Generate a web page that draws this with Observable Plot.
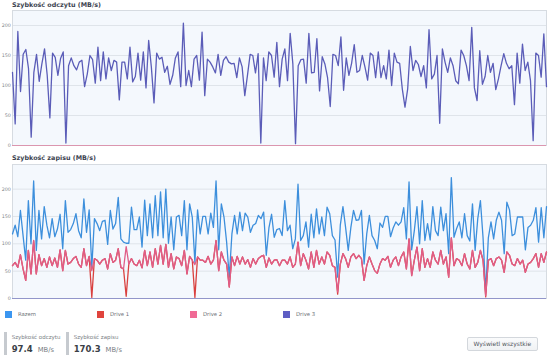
<!DOCTYPE html>
<html>
<head>
<meta charset="utf-8">
<script src="https://cdn.jsdelivr.net/npm/d3@7"></script>
<script src="https://cdn.jsdelivr.net/npm/@observablehq/plot@0.6"></script>
<style>
  html, body { margin: 0; padding: 0; background: #ffffff; }
  body { font-family: "DejaVu Sans", Verdana, sans-serif; }
  #root { position: relative; width: 550px; height: 360px; overflow: hidden; background: #fff; }
  #root svg { position: absolute; left: 0; background: transparent !important; }
  .abs { position: absolute; white-space: nowrap; line-height: 1; }
  .title { font-weight: bold; font-size: 6.4px; color: #3c4350; }
  .legtxt { font-size: 5.3px; color: #6b6f75; }
  .sq { position: absolute; width: 7px; height: 7px; }
  .bar { position: absolute; width: 3px; background: #c6cacf; }
  .slab { font-size: 5.5px; color: #7b7f86; }
  .sval { font-size: 8.5px; font-weight: bold; color: #3a3f47; }
  .sunit { font-size: 6.8px; color: #7b7f86; }
  .btn { position: absolute; box-sizing: border-box; border: 1px solid #d3d7dc; border-radius: 2px;
         background: linear-gradient(#fafbfc, #f0f2f4); font-size: 6px; color: #50555c;
         display: flex; align-items: center; justify-content: center; }
</style>
</head>
<body>
<div id="root"></div>
<script>
// ---------- data ----------
const chartTitles = ["Szybkość odczytu (MB/s)", "Szybkość zapisu (MB/s)"];
const seriesNames = ["Razem", "Drive 1", "Drive 2", "Drive 3"];
const seriesColors = ["#3d8fdc", "#d9413f", "#e05d87", "#5b5db8"];
const legendColors = ["#3b96f0", "#e0443d", "#f06a95", "#5e5ec4"];
const yTicks = [0, 50, 100, 150, 200];
const statLabels = ["Szybkość odczytu", "Szybkość zapisu"];
const statValues = ["97.4", "170.3"];
const statUnit = "MB/s";
const buttonLabel = "Wyświetl wszystkie";

// read speed of Drive 3 (Razem equals it), Drive 1 and Drive 2 read 0
const readDrive3 = [
  122,36,190,90,152,160,128,14,122,152,107,136,161,117,46,154,147,117,145,156,4,133,146,133,126,139,142,98,119,150,143,104,164,108,156,111,146,125,142,139,76,139,139,111,164,106,115,154,109,156,96,175,131,71,154,144,147,122,132,102,117,146,156,98,204,100,125,98,144,
  150,109,189,83,144,139,131,121,152,117,142,148,139,136,137,113,146,131,83,117,152,150,121,153,4,146,108,156,150,114,172,98,144,161,108,187,136,3,133,143,144,104,187,121,122,178,91,148,136,113,65,152,150,133,181,92,146,117,137,168,122,125,150,131,109,
  154,150,113,156,113,133,111,159,100,154,139,137,94,64,94,165,125,142,135,115,133,96,193,111,119,150,37,161,139,122,146,133,108,103,159,150,133,108,197,96,75,158,102,115,150,122,137,93,111,133,153,137,128,133,68,154,104,169,125,139,108,8,154,150,114,186,98
];
const readIdleDrives = [0];   // Drive 1, Drive 2 read speed

// write speed
const writeTotal = [
  118,134,113,161,115,70,179,100,215,88,161,109,168,134,111,146,113,127,154,91,179,121,126,137,155,124,111,182,121,162,57,146,137,124,141,143,99,161,127,137,185,109,103,101,101,167,126,126,149,94,180,115,173,111,188,115,195,111,200,101,149,89,149,152,115,179,89,173,149,
  66,162,118,150,150,118,156,130,215,89,173,149,103,39,118,152,118,158,124,156,149,121,134,137,152,146,158,79,129,154,112,126,128,115,179,124,134,91,109,209,106,115,140,94,154,111,164,118,149,115,167,155,115,107,39,134,168,130,88,130,161,143,144,161,63,118,152,115,106,
  91,138,130,150,150,113,129,140,134,140,166,109,213,89,124,168,100,179,106,137,107,168,124,115,167,124,155,82,221,112,128,140,111,155,115,105,173,88,146,179,111,12,111,140,109,143,158,143,82,176,162,115,118,149,149,149,89,130,134,143,166,103,166,111,168
];
const writeDrive1 = [
  60,66,57,80,54,33,88,45,106,45,80,60,73,57,76,60,74,57,89,51,88,63,66,73,77,63,57,91,60,77,2,73,70,63,70,73,54,82,66,70,91,57,54,4,63,73,63,60,70,56,88,60,85,57,91,63,97,63,99,57,82,54,76,73,60,88,45,77,70,
  2,76,70,70,66,77,63,70,106,51,85,70,63,21,76,60,77,63,76,63,71,57,73,63,73,77,79,57,74,63,70,71,60,70,70,63,76,57,63,103,60,82,70,54,85,57,88,63,76,63,85,79,60,57,8,63,82,73,57,76,82,73,79,73,33,60,76,63,51,
  46,63,73,70,77,57,70,76,60,76,85,54,109,42,70,94,51,91,57,73,57,85,70,63,88,63,76,39,111,60,73,70,60,82,63,54,88,57,66,88,70,3,70,73,60,73,76,70,48,85,79,63,60,73,63,70,48,63,66,73,82,57,82,66,85
];
const writeDrive2 = [
  60,66,57,80,54,33,88,45,106,45,80,60,73,57,76,60,74,57,89,51,88,63,66,73,77,63,57,91,60,77,51,73,70,63,70,73,54,82,66,70,91,57,54,95,63,73,63,60,70,56,88,60,85,57,91,63,97,63,99,57,82,54,76,73,60,88,45,77,70,
  62,76,70,70,66,77,63,70,106,51,85,70,63,21,76,60,77,63,76,63,71,57,73,63,73,77,79,57,74,63,70,71,60,70,70,63,76,57,63,103,60,82,70,54,85,57,88,63,76,63,85,79,60,57,12,63,82,73,57,76,82,73,79,73,33,60,76,63,51,
  46,63,73,70,77,57,70,76,60,76,85,54,109,42,70,94,51,91,57,73,57,85,70,63,88,63,76,39,111,60,73,70,60,82,63,54,88,57,66,88,70,5,70,73,60,73,76,70,48,85,79,63,60,73,63,70,48,63,66,73,82,57,82,66,85
];
const writeIdleDrives = [0];  // Drive 3 write speed

// ---------- drawing ----------
const root = document.getElementById("root");
const toPts = arr => arr.map((v, i) => ({i, v}));

function chart({series, idle, idleColor, n, yMax, top, height, mTop, mBottom}) {
  const marks = [
    Plot.frame({fill: "#f4f8fd", stroke: null}),
    Plot.gridY(yTicks.filter(t => t > 0), {stroke: "#dfe4ea", strokeOpacity: 1, strokeWidth: 1}),
    Plot.frame({stroke: "#d6dbe1", strokeWidth: 1}),
    Plot.axisY(yTicks, {tickSize: 0, tickPadding: 1.6, fontSize: 4.8, fill: "#80848a", label: null}),
    Plot.ruleY(idle, {stroke: idleColor, strokeWidth: 1.1, strokeOpacity: 0.55})
  ];
  for (const s of series) {
    marks.push(Plot.line(toPts(s.data), {x: "i", y: "v", stroke: s.color, strokeWidth: 1.3, strokeLinejoin: "round"}));
  }
  const svg = Plot.plot({
    width: 550, height,
    marginTop: mTop, marginBottom: mBottom, marginLeft: 12, marginRight: 4,
    x: {domain: [0, n - 1], axis: null},
    y: {domain: [0, yMax], axis: null, label: null},
    style: {fontFamily: "DejaVu Sans, Verdana, sans-serif", background: "transparent", overflow: "visible"},
    marks
  });
  svg.style.top = top + "px";
  root.appendChild(svg);
}

chart({
  series: [{data: readDrive3, color: seriesColors[3]}],
  idle: readIdleDrives, idleColor: seriesColors[2],
  n: readDrive3.length, yMax: 225, top: 0, height: 150, mTop: 10, mBottom: 5
});
chart({
  series: [
    {data: writeTotal, color: seriesColors[0]},
    {data: writeDrive1, color: seriesColors[1]},
    {data: writeDrive2, color: seriesColors[2]}
  ],
  idle: writeIdleDrives, idleColor: seriesColors[3],
  n: writeTotal.length, yMax: 245, top: 150, height: 150, mTop: 14, mBottom: 2
});

function el(cls, text, style) {
  const d = document.createElement("div");
  d.className = cls;
  if (text != null) d.textContent = text;
  Object.assign(d.style, style);
  root.appendChild(d);
  return d;
}

// titles
el("abs title", chartTitles[0], {left: "12px", top: "2.3px"});
el("abs title", chartTitles[1], {left: "12px", top: "155.3px"});

// legend
const legendX = [5, 97, 190, 283];
seriesNames.forEach((name, k) => {
  el("sq", null, {left: legendX[k] + "px", top: "311px", background: legendColors[k]});
  el("abs legtxt", name, {left: (legendX[k] + 13) + "px", top: "311.6px"});
});

// stats
const statX = [4, 66];
statLabels.forEach((lab, k) => {
  el("bar", null, {left: statX[k] + "px", top: "332px", height: "23px"});
  el("abs slab", lab, {left: (statX[k] + 7.7) + "px", top: "334.9px"});
  const v = el("abs sval", statValues[k], {left: (statX[k] + 7.7) + "px", top: "345.1px"});
  const w = v.getBoundingClientRect().width;
  el("abs sunit", statUnit, {left: (statX[k] + 7.7 + w + 5) + "px", top: "346.5px"});
});

// button
el("btn", buttonLabel, {left: "467px", top: "337px", width: "70.5px", height: "13.5px"});
</script>
</body>
</html>
